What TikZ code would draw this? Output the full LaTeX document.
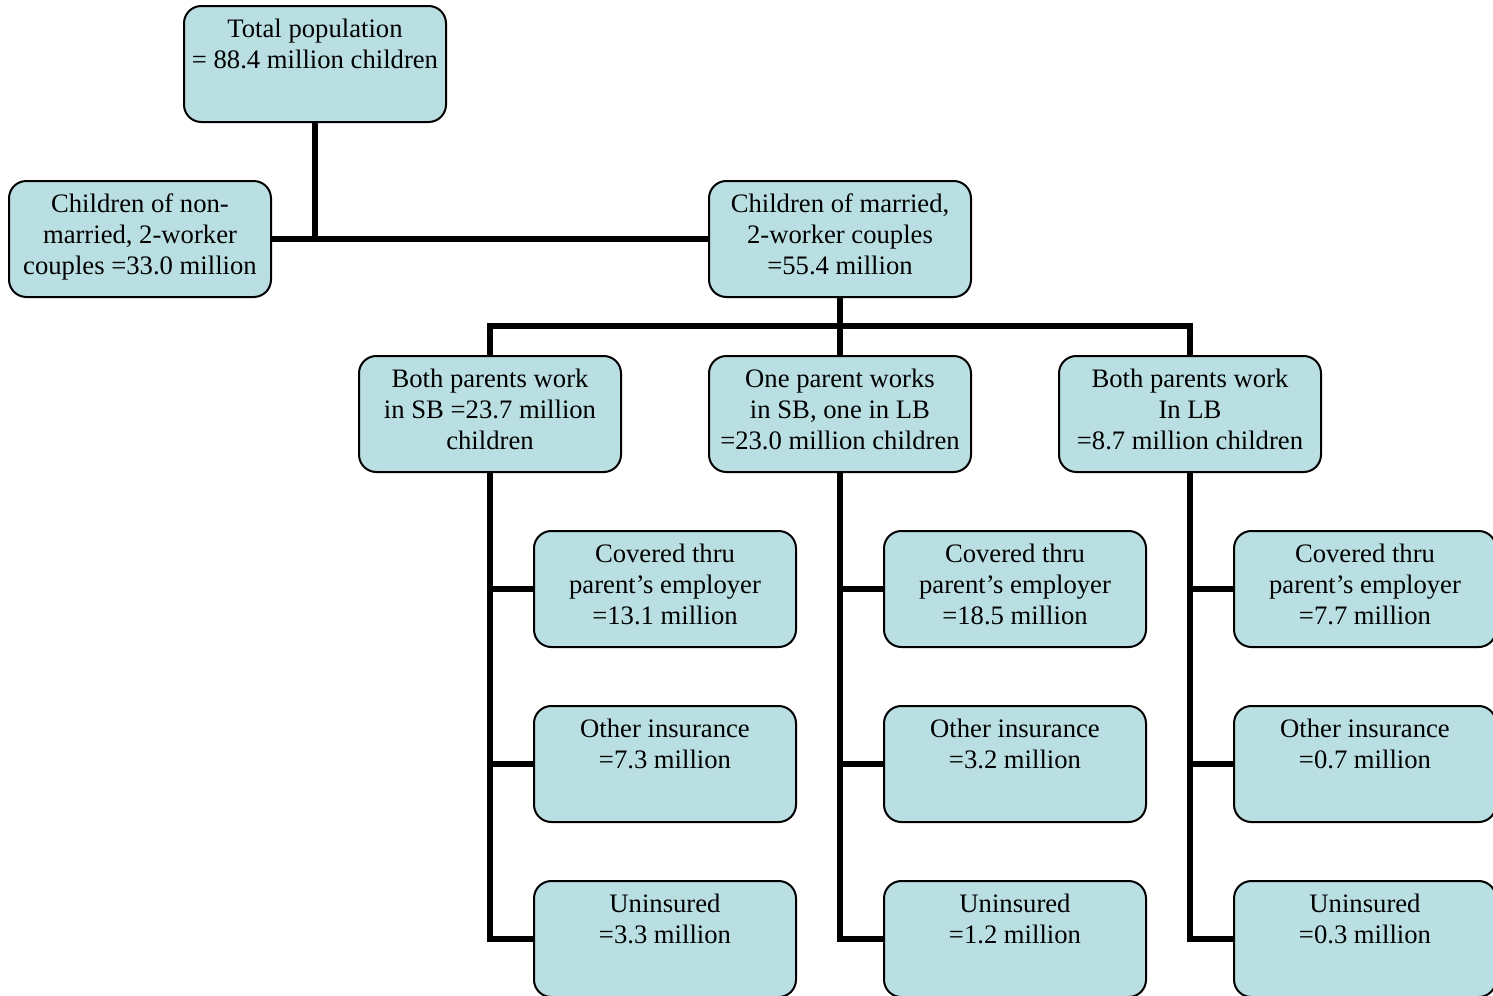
\documentclass[tikz,border=0pt]{standalone}
\usepackage{fontspec}
\setmainfont{Liberation Serif}
\definecolor{boxfill}{RGB}{185,223,226}
\newcommand{\boxtext}[1]{\parbox[c][87pt][t]{196.5pt}{\centering\fontsize{20pt}{23.25pt}\selectfont\rule{0pt}{23.25pt}#1}}
\tikzset{
  databox/.style={draw=black, line width=1.5pt, fill=boxfill, rounded corners=13pt,
    minimum width=196.5pt, minimum height=87pt, inner sep=0pt},
  conn/.style={draw=black, line width=3.9pt, line join=miter}
}
\begin{document}
\begin{tikzpicture}[x=0.75pt,y=-0.75pt]
\useasboundingbox (0,0) rectangle (1493,996);
% top levels
\node[databox] (total) at (315,64) {\boxtext{Total population\\= 88.4 million children}};
\node[databox] (nonmar) at (140,239) {\boxtext{Children of non-\\married, 2-worker\\couples =33.0 million}};
\node[databox] (mar) at (840,239) {\boxtext{Children of married,\\2-worker couples\\=55.4 million}};
% second level
\node[databox] (sb) at (490,414) {\boxtext{Both parents work\\in SB =23.7 million\\children}};
\node[databox] (mix) at (840,414) {\boxtext{One parent works\\in SB, one in LB\\=23.0 million children}};
\node[databox] (lb) at (1190,414) {\boxtext{Both parents work\\In LB\\=8.7 million children}};
% third level
\node[databox] (sbc) at (665,589) {\boxtext{Covered thru\\parent’s employer\\=13.1 million}};
\node[databox] (sbo) at (665,764) {\boxtext{Other insurance\\=7.3 million}};
\node[databox] (sbu) at (665,939) {\boxtext{Uninsured\\=3.3 million}};
\node[databox] (mixc) at (1015,589) {\boxtext{Covered thru\\parent’s employer\\=18.5 million}};
\node[databox] (mixo) at (1015,764) {\boxtext{Other insurance\\=3.2 million}};
\node[databox] (mixu) at (1015,939) {\boxtext{Uninsured\\=1.2 million}};
\node[databox] (lbc) at (1365,589) {\boxtext{Covered thru\\parent’s employer\\=7.7 million}};
\node[databox] (lbo) at (1365,764) {\boxtext{Other insurance\\=0.7 million}};
\node[databox] (lbu) at (1365,939) {\boxtext{Uninsured\\=0.3 million}};
% connectors
\coordinate (bus) at (840,326);
\path[conn] (nonmar.east) -- (mar.west);
\path[conn] (total.south) -- (total.south |- mar.west);
\path[conn] (mar.south) -- (bus);
\path[conn] (sb.north) |- (bus) -| (lb.north);
\path[conn] (bus) -- (mix.north);
\path[conn] (sb.south) |- (sbu.west);
\path[conn] (sb.south |- sbc.west) -- (sbc.west);
\path[conn] (sb.south |- sbo.west) -- (sbo.west);
\path[conn] (mix.south) |- (mixu.west);
\path[conn] (mix.south |- mixc.west) -- (mixc.west);
\path[conn] (mix.south |- mixo.west) -- (mixo.west);
\path[conn] (lb.south) |- (lbu.west);
\path[conn] (lb.south |- lbc.west) -- (lbc.west);
\path[conn] (lb.south |- lbo.west) -- (lbo.west);
\end{tikzpicture}
\end{document}
